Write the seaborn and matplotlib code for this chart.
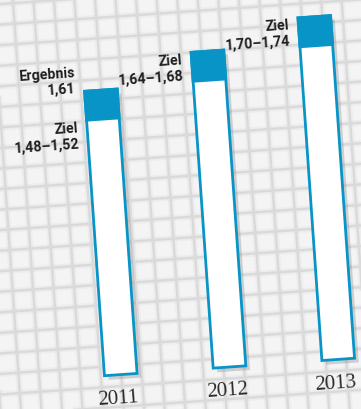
import numpy as np
import pandas as pd
import matplotlib
matplotlib.use("Agg")
import matplotlib.pyplot as plt
import matplotlib.patheffects as pe
from matplotlib.transforms import Affine2D
import seaborn as sns

# values
years = ["2011", "2012", "2013"]
bar_top = [1.61, 1.68, 1.74]          # Ergebnis 2011, upper Ziel 2012 / 2013
ziel_text = ["1,48–1,52", "1,64–1,68", "1,70–1,74"]
ergebnis_text = ["1,61", None, None]

BLUE = "#0994c7"
INK = "#1e1e1e"
W, H = 361, 410
base = 0.975        # value at the foot of the bars (cut axis)
px = 1 / 449        # one pixel in value units
cap = 29 * px       # depth of the blue block on top
tilt = 4            # the whole sheet is turned a little

df = pd.DataFrame({"year": years, "top": bar_top})
df["rise"] = df["top"] - base

sns.set_theme(style="white")
plt.rcParams["font.family"] = ["Roboto", "DejaVu Sans"]

fig = plt.figure(figsize=(W / 100, H / 100), dpi=100)
fig.patch.set_facecolor("#f4f4f4")
rot = Affine2D().rotate_deg_around(W / 2, H / 2, tilt)

# graph paper, soft lines
bg = fig.add_axes([0, 0, 1, 1])
bg.set_xlim(0, W)
bg.set_ylim(0, H)
bg.axis("off")
steps = np.arange(-198, 620, 20.5)
for lw, col, a in [(4.5, "#d4d4d4", 0.2), (1.8, "#dadada", 1.0)]:
    vl = bg.vlines(steps, -200, 620, color=col, lw=lw, alpha=a)
    hl = bg.hlines(steps, -200, 620, color=col, lw=lw, alpha=a)
    for c in (vl, hl):
        c.set_transform(bg.transData + rot)

ax = fig.add_axes([0, 0, 1, 1])
ax.patch.set_alpha(0)
shadow = [pe.SimplePatchShadow(offset=(3, -3), shadow_rgbFace="#888888", alpha=0.35), pe.Normal()]
sns.barplot(data=df, x="year", y="rise", bottom=base, color="white", saturation=1,
            edgecolor=BLUE, linewidth=2, width=0.3, errorbar=None, ax=ax,
            path_effects=shadow)
sns.barplot(x=df["year"], y=[cap] * len(years), bottom=(df["top"] - cap).to_numpy(),
            color=BLUE, saturation=1, edgecolor=BLUE, linewidth=2, width=0.3,
            errorbar=None, ax=ax)

ax.set_xlim(-1.0, (W - 109) / 109)
ax.set_ylim(base - 39 * px, base - 39 * px + H * px)
ax.axis("off")
for p in ax.patches:
    p.set_transform(ax.transData + rot)

tr = ax.transData + rot
lab = dict(ha="right", fontsize=10.3, fontweight="bold", color=INK, transform=tr,
           rotation=tilt, rotation_mode="anchor", linespacing=1.15)
for i, year in enumerate(years):
    x_lab = i - 0.15 - 9 / 109
    top = bar_top[i]
    if ergebnis_text[i]:
        ax.text(x_lab, top - 3 * px, "Ergebnis\n" + ergebnis_text[i], va="bottom", **lab)
        ax.text(x_lab, top - cap, "Ziel\n" + ziel_text[i], va="top", **lab)
    else:
        ax.text(x_lab, top + 1 * px, "Ziel\n" + ziel_text[i], va="top", **lab)
    ax.text(i - 4 / 109, base - 23 * px, year, ha="center", va="center", fontsize=15,
            family="Liberation Serif", color="#2b2b2b", transform=tr,
            rotation=tilt, rotation_mode="anchor")

fig.savefig("out.png", dpi=100, facecolor=fig.get_facecolor())
